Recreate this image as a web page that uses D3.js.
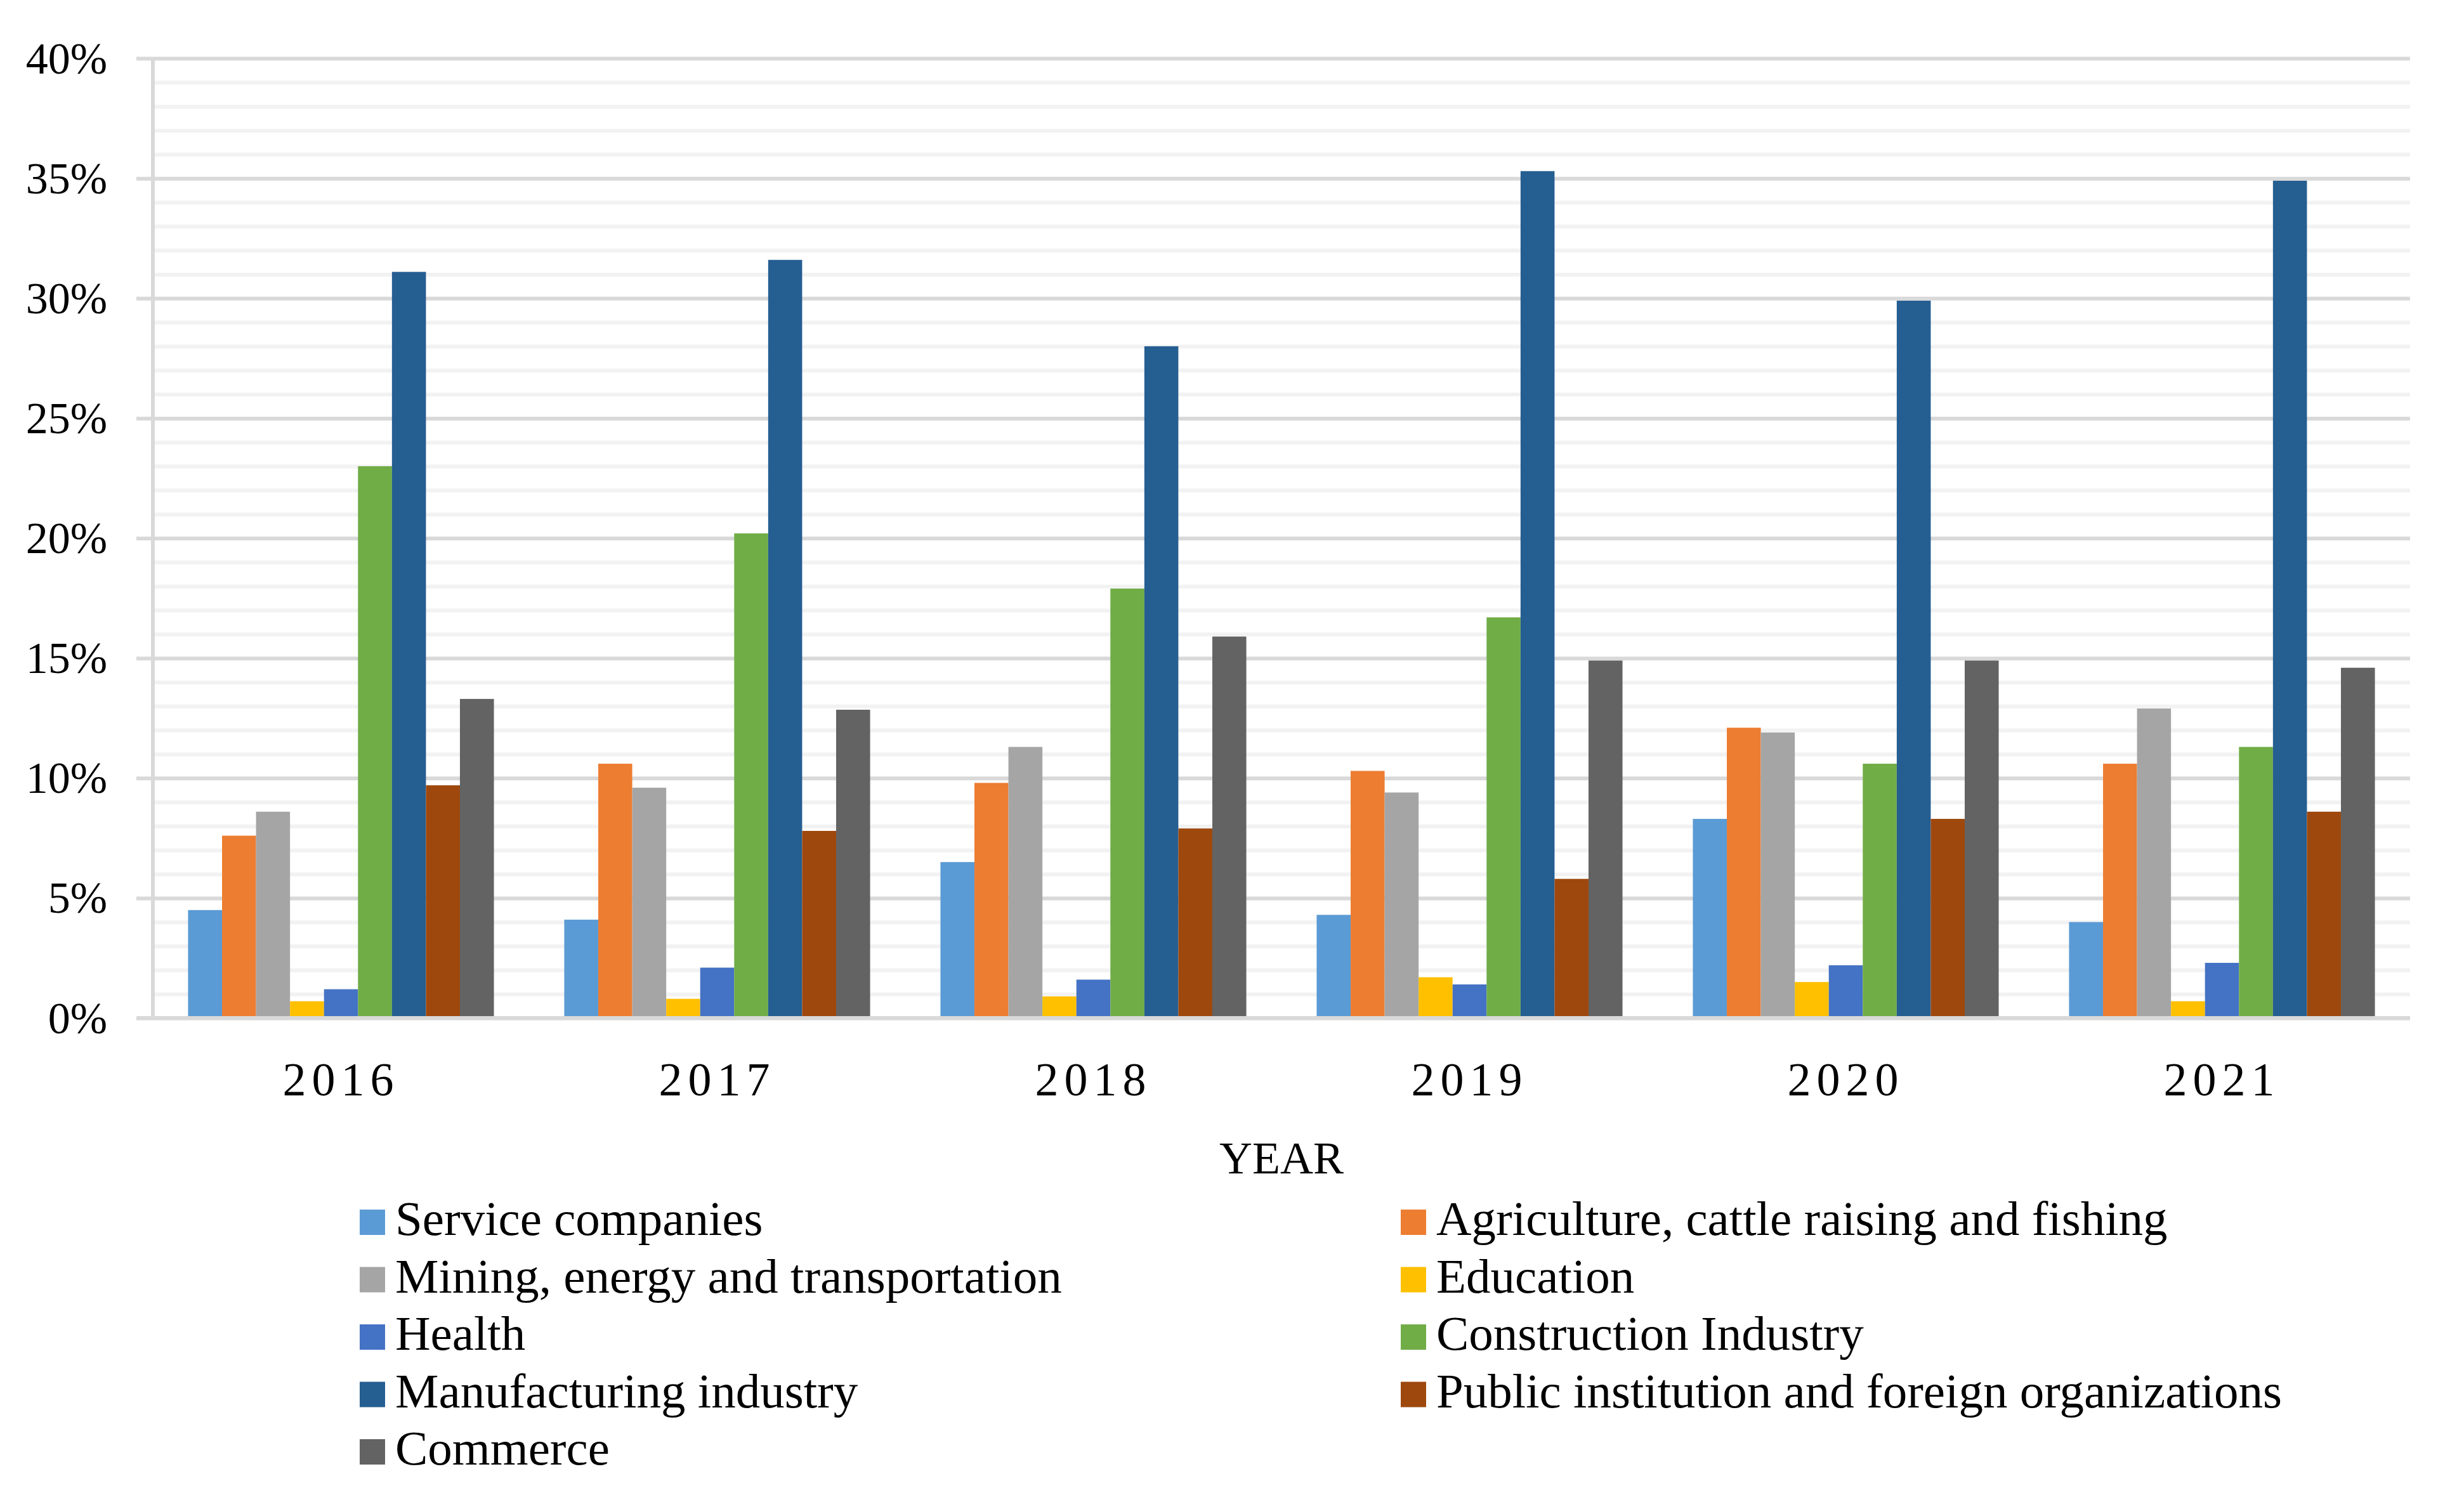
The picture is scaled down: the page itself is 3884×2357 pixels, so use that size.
<!DOCTYPE html>
<html>
<head>
<meta charset="utf-8">
<title>Sectors by year</title>
<script src="https://d3js.org/d3.v7.min.js"></script>
<style>
  body { margin: 0; background: #fff; }
  text { font-family: "Liberation Serif", "DejaVu Serif", serif; fill: #000; }
</style>
</head>
<body>
<svg width="3884" height="2357"></svg>
<script>
const years = ["2016", "2017", "2018", "2019", "2020", "2021"];
const sectors = [
  "Service companies",
  "Agriculture, cattle raising and fishing",
  "Mining, energy and transportation",
  "Education",
  "Health",
  "Construction Industry",
  "Manufacturing industry",
  "Public institution and foreign organizations",
  "Commerce"
];
const colors = ["#5B9BD5", "#ED7D31", "#A5A5A5", "#FFC000", "#4472C4", "#70AD47", "#255E91", "#9E480E", "#636363"];

// percent per sector, one value per year
const service       = [4.5, 4.1, 6.5, 4.3, 8.3, 4.0];
const agriculture   = [7.6, 10.6, 9.8, 10.3, 12.1, 10.6];
const mining        = [8.6, 9.6, 11.3, 9.4, 11.9, 12.9];
const education     = [0.7, 0.8, 0.9, 1.7, 1.5, 0.7];
const health        = [1.2, 2.1, 1.6, 1.4, 2.2, 2.3];
const construction  = [23.0, 20.2, 17.9, 16.7, 10.6, 11.3];
const manufacturing = [31.1, 31.6, 28.0, 35.3, 29.9, 34.9];
const publicInst    = [9.7, 7.8, 7.9, 5.8, 8.3, 8.6];
const commerce      = [13.3, 12.85, 15.9, 14.9, 14.9, 14.6];

const yTicks = [0, 5, 10, 15, 20, 25, 30, 35, 40];

const series = [service, agriculture, mining, education, health, construction, manufacturing, publicInst, commerce];

const plotL = 241, plotR = 3799, plotT = 92, plotB = 1605;
const svg = d3.select("svg");

const y = d3.scaleLinear().domain([0, 40]).range([plotB, plotT]);
const x0 = d3.scaleBand().domain(years).range([plotL, plotR]).paddingInner(0.187).paddingOuter(0.0935);
const x1 = d3.scaleBand().domain(d3.range(sectors.length)).range([0, x0.bandwidth()]);

// minor gridlines every 1%
svg.append("g")
  .attr("transform", `translate(${plotL},0)`)
  .call(d3.axisLeft(y).tickValues(d3.range(1, 40).filter(v => v % 5 !== 0)).tickSize(-(plotR - plotL)).tickFormat(""))
  .call(g => g.select(".domain").remove())
  .call(g => g.selectAll("line").attr("stroke", "#f2f2f2").attr("stroke-width", 6));

// major gridlines + labels
svg.append("g")
  .attr("transform", `translate(${plotL - 26},0)`)
  .call(d3.axisLeft(y).tickValues(yTicks).tickSize(-(plotR - plotL + 26)).tickPadding(46).tickFormat(d => d + "%"))
  .call(g => g.select(".domain").remove())
  .call(g => g.selectAll("line").attr("stroke", "#d9d9d9").attr("stroke-width", 6))
  .call(g => g.selectAll("text")
    .attr("font-size", 70)
    .attr("dy", "0.33em")
    .style("font-family", "'Liberation Serif', serif")
    .attr("fill", "#000"));

// vertical axis line
svg.append("line")
  .attr("x1", plotL).attr("x2", plotL)
  .attr("y1", y(40)).attr("y2", y(0))
  .attr("stroke", "#d9d9d9").attr("stroke-width", 6);

// bars
const groups = svg.append("g").selectAll("g")
  .data(years)
  .join("g")
  .attr("transform", d => `translate(${x0(d)},0)`);

groups.selectAll("rect")
  .data((d, yi) => series.map((s, si) => ({si, v: s[yi]})))
  .join("rect")
  .attr("x", d => x1(d.si))
  .attr("width", x1.bandwidth())
  .attr("y", d => y(d.v))
  .attr("height", d => y(0) - y(d.v))
  .attr("fill", d => colors[d.si]);

// horizontal axis line
svg.append("line")
  .attr("x1", plotL - 26).attr("x2", plotR)
  .attr("y1", y(0)).attr("y2", y(0))
  .attr("stroke", "#d9d9d9").attr("stroke-width", 6);

// year labels
svg.append("g").selectAll("text")
  .data(years)
  .join("text")
  .attr("x", d => x0(d) + x0.bandwidth() / 2)
  .attr("y", 1727)
  .attr("text-anchor", "middle")
  .attr("font-size", 74)
  .attr("letter-spacing", 9)
  .text(d => d);

svg.append("text")
  .attr("x", (plotL + plotR) / 2)
  .attr("y", 1850)
  .attr("text-anchor", "middle")
  .attr("font-size", 72)
  .text("YEAR");

// legend, two columns, row-major
const legend = svg.append("g").selectAll("g")
  .data(sectors)
  .join("g")
  .attr("transform", (d, i) => `translate(${i % 2 === 0 ? 567 : 2208},${1947 + Math.floor(i / 2) * 90.5})`);

legend.append("rect")
  .attr("x", 0).attr("y", -40)
  .attr("width", 40).attr("height", 40)
  .attr("fill", (d, i) => colors[i]);

legend.append("text")
  .attr("x", 56)
  .attr("y", 0)
  .attr("font-size", 77)
  .text(d => d);
</script>
</body>
</html>
